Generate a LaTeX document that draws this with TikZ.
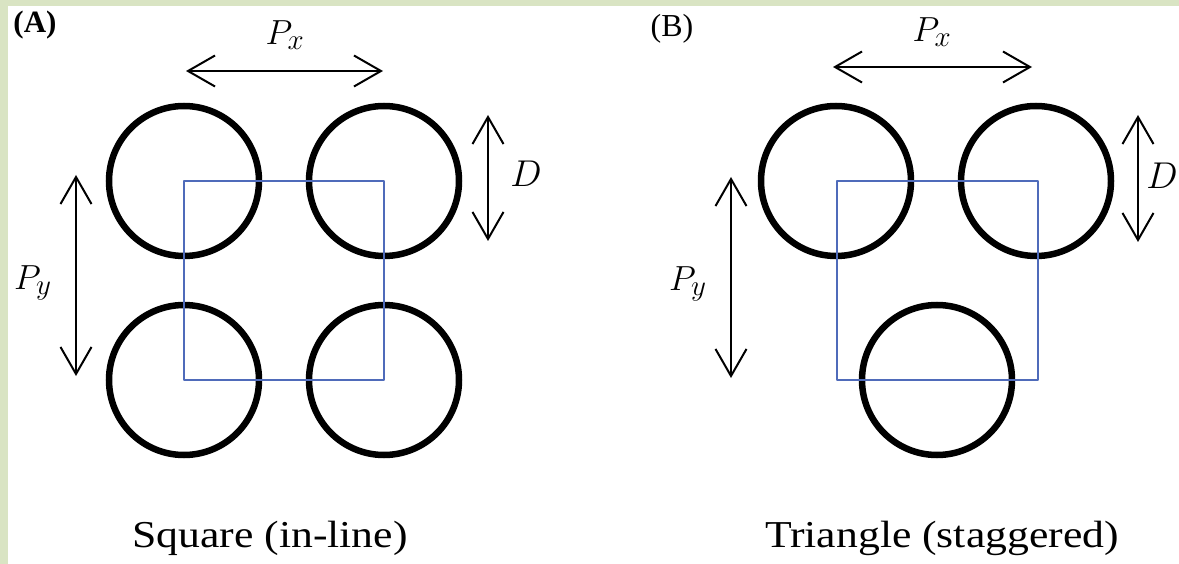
\documentclass[tikz,border=0pt]{standalone}
\usepackage{fontspec}
\setmainfont{Liberation Serif}
\usetikzlibrary{arrows.meta}
\definecolor{bggreen}{HTML}{D9E4C3}
\definecolor{cellblue}{HTML}{4F6BBA}
\newcommand{\mlbl}[1]{\scalebox{1.4}{\Huge$#1$}}
\newcommand{\dlbl}{\scalebox{1.5}{\Huge$D$}}
\begin{document}
\begin{tikzpicture}[x=1pt,y=-1pt,
  tube/.style={circle,draw=black,line width=6.5pt,minimum size=150pt,inner sep=0pt},
  cellbox/.style={draw=cellblue,line width=2.5pt,line join=round},
  dimarrow/.style={line width=2pt,{Straight Barb[length=27pt,width=31pt,line width=2pt]}-{Straight Barb[length=27pt,width=31pt,line width=2pt]}},
  mathlbl/.style={inner sep=0pt},
  panellbl/.style={inner sep=0pt},
  captxt/.style={font=\fontsize{38}{40}\selectfont,inner sep=0pt,anchor=base}]
% background
\fill[white] (0,0) rectangle (1179,564);
\fill[bggreen] (0,0) rectangle (1179,6);
\fill[bggreen] (0,0) rectangle (8,564);
\useasboundingbox (0,0) rectangle (1179,564);

% ---------- Panel A ----------
\node[tube] (a1) at (184,181) {};
\node[tube] (a2) at (384,181) {};
\node[tube] (a3) at (184,380) {};
\node[tube] (a4) at (384,380) {};
\draw[cellbox] (a1.center) -- (a2.center) -- (a4.center) -- (a3.center) -- cycle;

\coordinate (apxl) at (186,71);
\coordinate (apxr) at (383,71);
\draw[dimarrow] (apxl) -- (apxr);
\node[mathlbl] (apx) at (285,35) {\mlbl{P_x}};

\coordinate (apyt) at (76,175);
\coordinate (apyb) at (76,376);
\draw[dimarrow] (apyt) -- (apyb);
\node[mathlbl] (apy) at (33,283) {\mlbl{P_y}};

\coordinate (adt) at (488,115);
\coordinate (adb) at (488,241);
\draw[dimarrow] (adt) -- (adb);
\node[mathlbl] (ad) at (526,174) {\dlbl};

\node[panellbl,font=\fontsize{31}{33}\selectfont\bfseries] (la) at (35,25) {(A)};
\node[captxt] (ca) at (270,547) {\scalebox{1.15}[1]{Square (in-line)}};

% ---------- Panel B ----------
\node[tube] (b1) at (836,181) {};
\node[tube] (b2) at (1036,181) {};
\node[tube] (b3) at (937,380) {};
\coordinate (bsq1) at (837,181);
\coordinate (bsq2) at (1038,181);
\coordinate (bsq3) at (1038,380);
\coordinate (bsq4) at (837,380);
\draw[cellbox] (bsq1) -- (bsq2) -- (bsq3) -- (bsq4) -- cycle;

\coordinate (bpxl) at (833,67);
\coordinate (bpxr) at (1032,67);
\draw[dimarrow] (bpxl) -- (bpxr);
\node[mathlbl] (bpx) at (932,32) {\mlbl{P_x}};

\coordinate (bdt) at (1138,115);
\coordinate (bdb) at (1138,242);
\draw[dimarrow] (bdt) -- (bdb);
\node[mathlbl] (bd) at (1162,176) {\dlbl};

\coordinate (bpyt) at (731,177);
\coordinate (bpyb) at (731,378);
\draw[dimarrow] (bpyt) -- (bpyb);
\node[mathlbl] (bpy) at (688,284) {\mlbl{P_y}};

\node[panellbl,font=\fontsize{32}{34}\selectfont] (lb) at (672,29) {(B)};
\node[captxt] (cb) at (942,547) {\scalebox{1.15}[1]{Triangle (staggered)}};
\end{tikzpicture}
\end{document}
